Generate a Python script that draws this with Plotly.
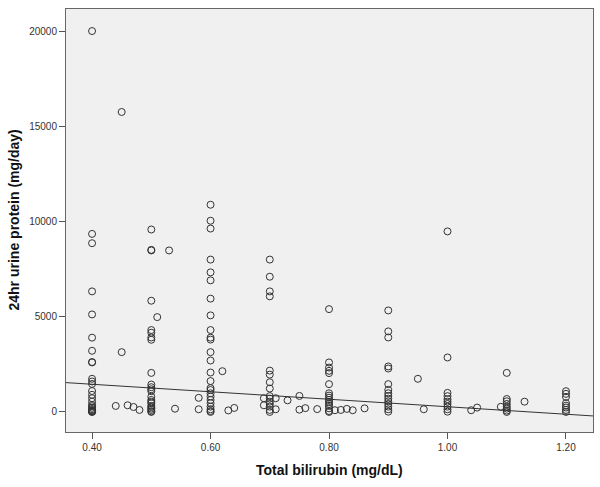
import plotly.graph_objects as go

# ---- data ----
# main columns (bilirubin value -> list of 24h urine protein values)
bili_cols = [0.40, 0.50, 0.60, 0.70, 0.80, 0.90, 1.00, 1.10, 1.20]
p_040 = [20000, 9350, 8860, 6330, 5120, 3900, 3210, 2620, 2600, 1740, 1600, 1470,
         1100, 900, 720, 540, 370, 300, 220, 150, 100, 60, 30, 10, 0]
p_050 = [9580, 8510, 8480, 5840, 4300, 4160, 3910, 3790, 2050, 1440, 1300, 1190,
         1090, 800, 630, 540, 460, 315, 250, 175, 105, 35, 0]
p_060 = [10880, 10040, 9630, 8000, 7330, 6910, 5950, 5070, 4300, 3900, 3800, 3140,
         2700, 2070, 1620, 1250, 1150, 980, 810, 630, 460, 280, 140, 50, 0]
p_070 = [8000, 7100, 6330, 6070, 2170, 1960, 1560, 1230, 830, 700, 540, 420, 280, 105, 0]
p_080 = [5400, 2600, 2330, 2160, 2040, 1460, 980, 860, 750, 630, 530, 420, 320, 190, 50, 0]
p_090 = [5330, 4230, 3910, 2390, 2280, 1460, 1160, 980, 840, 700, 560, 420, 280, 140, 15]
p_100 = [9480, 2860, 1000, 830, 670, 540, 420, 280, 140, 15]
p_110 = [2050, 680, 560, 420, 280, 175, 70, 0]
p_120 = [1090, 950, 790, 460, 330, 230, 105, 0]
col_values = [p_040, p_050, p_060, p_070, p_080, p_090, p_100, p_110, p_120]

# scattered individual points
extra_bili = [0.44, 0.45, 0.45, 0.46, 0.47, 0.48, 0.51, 0.53, 0.54, 0.58, 0.58,
              0.62, 0.63, 0.64, 0.69, 0.69, 0.71, 0.71, 0.73, 0.75, 0.75, 0.76,
              0.78, 0.81, 0.82, 0.83, 0.84, 0.86, 0.95, 0.96, 1.04, 1.05, 1.09, 1.13]
extra_prot = [315, 15750, 3140, 350, 260, 105, 4980, 8480, 170, 740, 140,
              2140, 80, 210, 720, 350, 720, 140, 610, 840, 120, 200,
              150, 90, 105, 160, 90, 190, 1740, 140, 90, 230, 270, 540]

# fit line end points (as drawn across the plot)
fit_x = [0.356, 1.2456]
fit_y = [1540, -210]

x_ticks = [0.40, 0.60, 0.80, 1.00, 1.20]
y_ticks = [0, 5000, 10000, 15000, 20000]

# ---- build ----
xs, ys = [], []
for b, vals in zip(bili_cols, col_values):
    xs += [b] * len(vals)
    ys += vals
xs += extra_bili
ys += extra_prot

font_family = "Liberation Sans, Arial, sans-serif"

fig = go.Figure()
fig.add_trace(go.Scatter(
    x=xs, y=ys, mode="markers",
    marker=dict(symbol="circle-open", size=7, color="#333333",
                line=dict(width=1, color="#333333")),
    hoverinfo="x+y", showlegend=False))
fig.add_trace(go.Scatter(
    x=fit_x, y=fit_y, mode="lines",
    line=dict(color="#333333", width=1), showlegend=False, hoverinfo="skip"))

axis_common = dict(
    showgrid=False, zeroline=False, showline=True, mirror=True,
    linecolor="#666666", linewidth=1,
    ticks="outside", ticklen=6, tickcolor="#555555", tickwidth=1,
    tickfont=dict(family=font_family, size=10, color="#333333"),
)

fig.update_layout(
    width=600, height=487,
    margin=dict(l=66, r=7, t=9, b=55),
    paper_bgcolor="white", plot_bgcolor="#F0F0F0",
    font=dict(family=font_family),
    xaxis=dict(range=[0.356, 1.2456], tickvals=x_ticks, tickformat=".2f", **axis_common),
    yaxis=dict(range=[-1053, 21158], tickvals=y_ticks, tickformat="d", **axis_common),
    annotations=[
        dict(text="<b>Total bilirubin (mg/dL)</b>", xref="paper", yref="paper",
             x=0.5, y=0, xanchor="center", yanchor="middle", yshift=-38,
             showarrow=False, font=dict(family=font_family, size=14, color="#111111")),
        dict(text="<b>24hr urine protein (mg/day)</b>", xref="paper", yref="paper",
             x=0, y=0.5, xanchor="center", yanchor="middle", xshift=-53,
             textangle=-90, showarrow=False,
             font=dict(family=font_family, size=14, color="#111111")),
    ],
)

fig.write_html("out.html", config={"displayModeBar": False},
               post_script="document.body.style.margin='0';document.body.style.padding='0';")
